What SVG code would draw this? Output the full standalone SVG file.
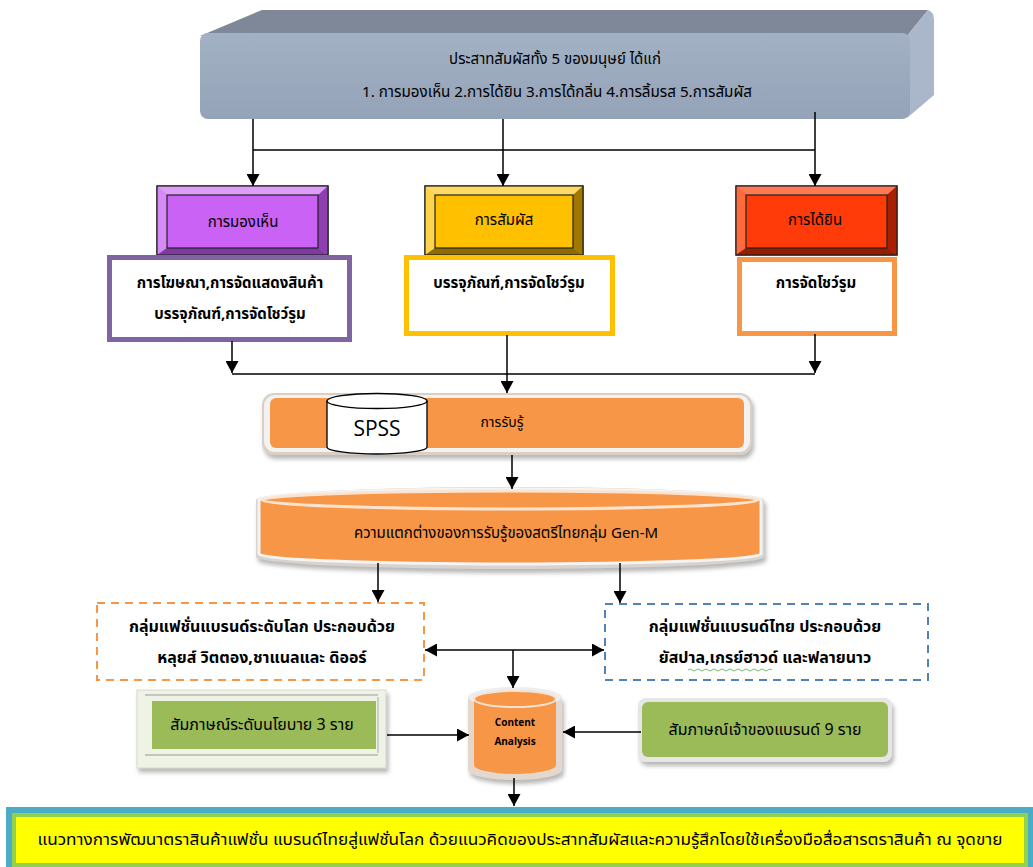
<svg xmlns="http://www.w3.org/2000/svg" width="1033" height="867" viewBox="0 0 1033 867">
<defs>
<marker id="ah" markerWidth="12" markerHeight="13" refX="12" refY="6.5" orient="auto" markerUnits="userSpaceOnUse">
<path d="M0,0 L12,6.5 L0,13 Z" fill="#000"/>
</marker>
<linearGradient id="gTop" x1="0" y1="0" x2="0" y2="1">
<stop offset="0" stop-color="#A3B1C4"/><stop offset="1" stop-color="#94A3B8"/>
</linearGradient>
<filter id="sh" x="-10%" y="-20%" width="120%" height="160%">
<feDropShadow dx="2" dy="4" stdDeviation="2" flood-color="#999" flood-opacity="0.7"/>
</filter>
</defs>
<style>
text{font-family:"Noto Sans Thai","Tahoma","Liberation Sans","Noto Sans",sans-serif;fill:#000;text-anchor:middle}
.t13{font-size:13px}
.t14{font-size:14px}
.t15{font-size:15px}
.t16{font-size:16px}
.b15{font-size:15px;font-weight:bold}
.b16{font-size:16px;font-weight:bold}
.conn line,.conn path{stroke:#000;stroke-width:1.5;fill:none}
.edge{stroke:#222;stroke-width:1.2}
</style>
<rect width="1033" height="867" fill="#fff"/>

<g id="senses">
<polygon points="200,36 262,10 928,10 907,36" fill="#7E8898"/>
<path d="M907,36 L928,10 Q934,12 934,20 L934,95 L907,118 Z" fill="#AAB7CB"/>
<rect x="200" y="33" width="710" height="86" rx="8" fill="url(#gTop)"/>
<text class="t15" x="555" y="64">ประสาทสัมผัสทั้ง 5 ของมนุษย์ ได้แก่</text>
<text class="t15" x="557" y="97" textLength="390" lengthAdjust="spacingAndGlyphs">1. การมองเห็น 2.การได้ยิน 3.การได้กลิ่น 4.การลิ้มรส 5.การสัมผัส</text>
</g>

<g id="seeing">
<rect x="157" y="186" width="171" height="69" fill="#CF7BF5" class="edge"/>
<polygon points="157,186 328,186 318,195 167,195" fill="#DE9EF8"/>
<polygon points="157,186 167,195 167,248 157,255" fill="#D68AF6"/>
<polygon points="328,186 318,195 318,248 328,255" fill="#8E3FB2"/>
<polygon points="157,255 167,248 318,248 328,255" fill="#7E3AA0"/>
<rect x="167" y="195" width="151" height="53" fill="#C962F5" class="edge"/>
<rect x="157" y="186" width="171" height="69" fill="none" class="edge"/>
<text class="t15" x="243" y="227">การมองเห็น</text>
</g>
<g id="seeing-detail">
<rect x="109.5" y="257.5" width="240" height="82" fill="#fff" stroke="#8064A2" stroke-width="5"/>
<text class="b15" x="230" y="288">การโฆษณา,การจัดแสดงสินค้า</text>
<text class="b15" x="230" y="319">บรรจุภัณฑ์,การจัดโชว์รูม</text>
</g>

<g id="touch">
<rect x="425" y="186" width="158" height="69" fill="#FFC000" class="edge"/>
<polygon points="425,186 583,186 573,195 435,195" fill="#FFD966"/>
<polygon points="425,186 435,195 435,248 425,255" fill="#FFD34D"/>
<polygon points="583,186 573,195 573,248 583,255" fill="#A07800"/>
<polygon points="425,255 435,248 573,248 583,255" fill="#8F6B00"/>
<rect x="435" y="195" width="138" height="53" fill="#FFC000" class="edge"/>
<rect x="425" y="186" width="158" height="69" fill="none" class="edge"/>
<text class="t15" x="504" y="225">การสัมผัส</text>
</g>
<g id="touch-detail">
<rect x="406.5" y="257.5" width="206" height="76" fill="#fff" stroke="#FFC000" stroke-width="5"/>
<text class="b15" x="509" y="288">บรรจุภัณฑ์,การจัดโชว์รูม</text>
</g>

<g id="hearing">
<rect x="736" y="186" width="161" height="69" fill="#FF3B0A" class="edge"/>
<polygon points="736,186 897,186 887,195 746,195" fill="#FF7A52"/>
<polygon points="736,186 746,195 746,248 736,255" fill="#FF6A3D"/>
<polygon points="897,186 887,195 887,248 897,255" fill="#A82000"/>
<polygon points="736,255 746,248 887,248 897,255" fill="#951C00"/>
<rect x="746" y="195" width="141" height="53" fill="#FF3B0A" class="edge"/>
<rect x="736" y="186" width="161" height="69" fill="none" class="edge"/>
<text class="t15" x="815" y="225">การได้ยิน</text>
</g>
<g id="hearing-detail">
<rect x="739.5" y="259.5" width="155" height="74" fill="#fff" stroke="#F79646" stroke-width="5"/>
<text class="b15" x="816" y="288">การจัดโชว์รูม</text>
</g>

<g id="perception">
<rect x="262" y="393" width="490" height="62" rx="12" fill="#D9CFC4" filter="url(#sh)"/>
<rect x="264" y="395" width="486" height="57" rx="11" fill="#F2F2F2"/>
<rect x="270" y="398" width="474" height="50" rx="6" fill="#F79646"/>
<path d="M327,401 L327,447 A50,7 0 0 0 427,447 L427,401" fill="#fff" stroke="#000" stroke-width="1.3"/>
<ellipse cx="377" cy="401" rx="50" ry="7.5" fill="#fff" stroke="#000" stroke-width="1.3"/>
<text x="377" y="436" style="font-family:'Open Sans','Liberation Sans',sans-serif;font-size:21px">SPSS</text>
<text class="t14" x="502" y="427">การรับรู้</text>
</g>

<g id="difference">
<path d="M256,500 A254,13 0 0 1 764,500 L764,557 A254,12 0 0 1 256,557 Z" fill="#D8D3CE" filter="url(#sh)"/>
<path d="M259,500 A251,11 0 0 1 761,500 L761,554 A251,10 0 0 1 259,554 Z" fill="#F79646" stroke="#F4F4F4" stroke-width="3"/>
<ellipse cx="510" cy="500" rx="248" ry="9" fill="#F79646" stroke="#FBE3D0" stroke-width="3"/>
<text class="t15" x="506" y="538">ความแตกต่างของการรับรู้ของสตรีไทยกลุ่ม Gen-M</text>
</g>

<g id="global-brands">
<rect x="97" y="603" width="327" height="77" fill="#fff" stroke="#F79646" stroke-width="2" stroke-dasharray="8,6"/>
<text class="b16" x="262" y="632">กลุ่มแฟชั่นแบรนด์ระดับโลก ประกอบด้วย</text>
<text class="b16" x="262" y="663">หลุยส์ วิตตอง,ชาแนลและ ดิออร์</text>
</g>

<g id="thai-brands">
<rect x="605" y="604" width="323" height="76" fill="#fff" stroke="#4F81BD" stroke-width="2" stroke-dasharray="8,6"/>
<text class="b16" x="765" y="632">กลุ่มแฟชั่นแบรนด์ไทย ประกอบด้วย</text>
<text class="b16" x="765" y="663">ยัสปาล,เกรย์ฮาวด์ และฟลายนาว</text>
<path d="M688,670 q2,-2 4,0 t4,0 t4,0 t4,0 t4,0 t4,0 t4,0 t4,0 t4,0 t4,0 t4,0 t4,0 t4,0 t4,0 t4,0 t4,0 t4,0 t4,0 t4,0 t4,0 t4,0" fill="none" stroke="#4CA64C" stroke-width="0.8"/>
</g>

<g id="policy-interview">
<rect x="137" y="690" width="249" height="78" fill="#EEF3E6" stroke="#D5DBCB" filter="url(#sh)"/>
<line x1="145" y1="695" x2="378" y2="695" stroke="#999" stroke-width="1"/>
<line x1="145" y1="755" x2="378" y2="755" stroke="#999" stroke-width="1"/>
<line x1="378" y1="697" x2="378" y2="753" stroke="#aaa" stroke-width="1"/>
<rect x="152" y="701" width="224" height="48" fill="#9BBB59"/>
<text class="t16" x="262" y="730">สัมภาษณ์ระดับนโยบาย 3 ราย</text>
</g>

<g id="content-analysis">
<path d="M468,697 L468,770 A47,10 0 0 0 562,770 L562,697" fill="#E4D8CE" filter="url(#sh)"/>
<ellipse cx="515" cy="697" rx="47" ry="10" fill="#EDEDED"/>
<path d="M474,700 L474,765 A41,9 0 0 0 556,765 L556,700 Z" fill="#F79646"/>
<ellipse cx="515" cy="699" rx="41" ry="8" fill="#F79646" stroke="#F6E2D2" stroke-width="2"/>
<text x="515" y="726" style="font-size:10px;font-weight:bold;font-family:'Open Sans','Liberation Sans',sans-serif">Content</text>
<text x="515" y="745" style="font-size:10px;font-weight:bold;font-family:'Open Sans','Liberation Sans',sans-serif">Analysis</text>
</g>

<g id="owner-interview">
<rect x="638" y="698" width="254" height="64" rx="8" fill="#E6E6E6" filter="url(#sh)"/>
<rect x="642" y="702" width="246" height="55" rx="6" fill="#9BBB59"/>
<text class="t16" x="765" y="735">สัมภาษณ์เจ้าของแบรนด์ 9 ราย</text>
</g>

<g id="guideline">
<rect x="6" y="807" width="1027" height="60" fill="#4BACC6"/>
<rect x="12" y="813" width="1016" height="54" fill="#92D050"/>
<rect x="16" y="817" width="1008" height="46" fill="#FFFF00"/>
<text class="t15" x="520" y="845" textLength="965" lengthAdjust="spacingAndGlyphs">แนวทางการพัฒนาตราสินค้าแฟชั่น แบรนด์ไทยสู่แฟชั่นโลก ด้วยแนวคิดของประสาทสัมผัสและความรู้สึกโดยใช้เครื่องมือสื่อสารตราสินค้า ณ จุดขาย</text>
</g>

<g class="conn" id="connectors">
<line x1="253" y1="119" x2="253" y2="150"/>
<line x1="503" y1="119" x2="503" y2="150"/>
<line x1="815" y1="112" x2="815" y2="150"/>
<line x1="253" y1="150" x2="815" y2="150"/>
<line x1="253" y1="150" x2="253" y2="186" marker-end="url(#ah)"/>
<line x1="503" y1="150" x2="503" y2="186" marker-end="url(#ah)"/>
<line x1="815" y1="150" x2="815" y2="186" marker-end="url(#ah)"/>

<line x1="232" y1="341" x2="232" y2="373" marker-end="url(#ah)"/>
<line x1="815" y1="334" x2="815" y2="373" marker-end="url(#ah)"/>
<line x1="232" y1="374" x2="815" y2="374"/>
<line x1="507" y1="335" x2="507" y2="393" marker-end="url(#ah)"/>

<line x1="512" y1="455" x2="512" y2="489" marker-end="url(#ah)"/>

<line x1="378" y1="563" x2="378" y2="602" marker-end="url(#ah)"/>
<line x1="620" y1="563" x2="620" y2="603" marker-end="url(#ah)"/>

<line x1="470" y1="650" x2="425" y2="650" marker-end="url(#ah)"/>
<line x1="470" y1="650" x2="604" y2="650" marker-end="url(#ah)"/>
<line x1="513" y1="650" x2="513" y2="688" marker-end="url(#ah)"/>

<line x1="387" y1="735" x2="469" y2="735" marker-end="url(#ah)"/>
<line x1="641" y1="732" x2="563" y2="732" marker-end="url(#ah)"/>
<line x1="514" y1="778" x2="514" y2="806" marker-end="url(#ah)"/>
</g>
</svg>
